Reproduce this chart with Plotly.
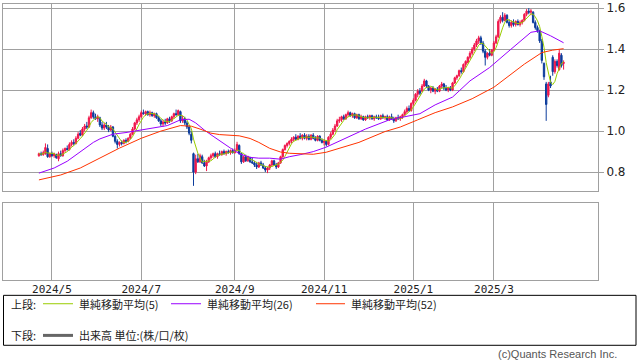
import math
import pandas as pd
import plotly.graph_objects as go

# ---------------- data ----------------
holidays = ["2024-04-29", "2024-05-03", "2024-05-06", "2024-07-15", "2024-08-12",
            "2024-09-16", "2024-09-23", "2024-10-14", "2024-11-04", "2024-12-31",
            "2025-01-01", "2025-01-02", "2025-01-03", "2025-01-13", "2025-02-11",
            "2025-02-24", "2025-03-20"]
dates = [d.strftime("%Y-%m-%d") for d in pd.bdate_range("2024-04-22", "2025-04-17")
         if d.strftime("%Y-%m-%d") not in holidays]

tick_dates = ["2024-05-01", "2024-07-01", "2024-09-02", "2024-11-01", "2025-01-06", "2025-03-03"]
tick_labels = ["2024/5", "2024/7", "2024/9", "2024/11", "2025/1", "2025/3"]

price_ticks = [0.8, 1.0, 1.2, 1.4, 1.6]
price_tick_labels = ["0.8", "1.0", "1.2", "1.4", "1.6"]

opens = [0.880,0.890,0.885,0.890,0.915,0.875,0.890,0.880,0.885,0.865,
         0.890,0.880,0.905,0.915,0.910,0.935,0.945,0.940,0.965,0.990,
         0.980,1.010,1.025,1.020,1.065,1.090,1.070,1.060,1.065,1.030,
         1.015,1.030,1.020,1.005,1.020,0.975,0.950,0.935,0.945,0.940,
         0.955,0.950,0.965,0.985,1.010,1.040,1.055,1.070,1.090,1.085,
         1.095,1.080,1.090,1.075,1.085,1.065,1.050,1.035,1.045,1.040,
         1.060,1.050,1.070,1.085,1.080,1.095,1.050,1.060,1.040,1.020,
         0.985,0.890,0.800,0.865,0.850,0.875,0.845,0.830,0.850,0.870,
         0.880,0.890,0.875,0.890,0.885,0.900,0.890,0.900,0.895,0.905,
         0.895,0.905,0.930,0.890,0.850,0.875,0.855,0.870,0.850,0.845,
         0.835,0.825,0.845,0.835,0.820,0.810,0.820,0.835,0.855,0.835,
         0.825,0.845,0.875,0.910,0.930,0.940,0.950,0.960,0.970,0.960,
         0.975,0.965,0.980,0.965,0.975,0.960,0.980,0.965,0.955,0.975,
         0.955,0.945,0.950,0.935,0.970,0.985,1.005,1.025,1.050,1.055,
         1.070,1.060,1.080,1.090,1.075,1.085,1.065,1.080,1.060,1.070,
         1.055,1.070,1.065,1.075,1.060,1.070,1.065,1.060,1.075,1.065,
         1.070,1.055,1.070,1.060,1.050,1.065,1.060,1.070,1.080,1.095,
         1.110,1.100,1.135,1.150,1.180,1.195,1.195,1.220,1.245,1.220,
         1.200,1.210,1.195,1.205,1.195,1.220,1.230,1.210,1.200,1.210,
         1.200,1.235,1.260,1.270,1.295,1.290,1.325,1.335,1.360,1.380,
         1.400,1.420,1.440,1.455,1.430,1.390,1.360,1.380,1.370,1.395,
         1.430,1.460,1.535,1.555,1.540,1.565,1.530,1.515,1.530,1.520,
         1.535,1.520,1.530,1.540,1.570,1.585,1.580,1.580,1.530,1.505,
         1.490,1.440,1.330,1.230,1.175,1.240,1.360,1.290,1.340,1.300,
         1.370,1.330]
highs = [0.895,0.900,0.905,0.940,0.935,0.895,0.900,0.895,0.890,0.900,
         0.905,0.915,0.920,0.930,0.945,0.955,0.960,0.975,0.995,1.005,
         1.020,1.035,1.045,1.075,1.105,1.100,1.085,1.080,1.070,1.045,
         1.040,1.045,1.030,1.030,1.025,0.980,0.960,0.950,0.955,0.960,
         0.965,0.970,0.990,1.020,1.045,1.065,1.080,1.100,1.105,1.100,
         1.100,1.100,1.095,1.090,1.090,1.075,1.060,1.055,1.060,1.065,
         1.070,1.075,1.090,1.105,1.105,1.100,1.075,1.070,1.050,1.030,
         1.000,0.895,0.885,0.890,0.890,0.885,0.860,0.860,0.875,0.890,
         0.895,0.900,0.895,0.905,0.905,0.910,0.905,0.910,0.910,0.915,
         0.915,0.948,0.935,0.895,0.880,0.885,0.880,0.875,0.870,0.855,
         0.850,0.850,0.855,0.845,0.830,0.825,0.840,0.860,0.860,0.845,
         0.850,0.880,0.915,0.935,0.945,0.955,0.970,0.975,0.985,0.980,
         0.990,0.985,0.990,0.985,0.985,0.985,0.990,0.975,0.980,0.980,
         0.965,0.960,0.955,0.975,0.995,1.015,1.035,1.060,1.070,1.075,
         1.080,1.085,1.100,1.095,1.090,1.090,1.085,1.085,1.080,1.075,
         1.075,1.080,1.080,1.080,1.075,1.080,1.080,1.080,1.085,1.075,
         1.080,1.075,1.085,1.070,1.070,1.080,1.075,1.085,1.105,1.120,
         1.125,1.140,1.160,1.185,1.205,1.210,1.230,1.255,1.250,1.225,
         1.215,1.220,1.210,1.215,1.225,1.240,1.235,1.225,1.215,1.220,
         1.240,1.265,1.275,1.300,1.310,1.330,1.345,1.365,1.390,1.410,
         1.430,1.450,1.465,1.465,1.440,1.400,1.385,1.400,1.400,1.440,
         1.470,1.545,1.565,1.580,1.575,1.570,1.545,1.540,1.545,1.540,
         1.545,1.540,1.545,1.575,1.595,1.600,1.595,1.585,1.540,1.515,
         1.495,1.450,1.335,1.240,1.240,1.270,1.370,1.350,1.350,1.400,
         1.380,1.345]
lows = [0.875,0.880,0.880,0.885,0.870,0.870,0.875,0.870,0.865,0.853,
        0.875,0.875,0.895,0.905,0.905,0.925,0.930,0.935,0.960,0.975,
        0.975,1.000,1.010,1.015,1.060,1.060,1.055,1.045,1.020,1.005,
        1.005,1.010,0.995,1.000,0.970,0.940,0.915,0.925,0.930,0.935,
        0.940,0.945,0.960,0.980,1.005,1.030,1.045,1.065,1.080,1.075,
        1.075,1.070,1.070,1.065,1.060,1.045,1.025,1.022,1.030,1.035,
        1.040,1.045,1.060,1.075,1.075,1.040,1.040,1.030,1.010,0.980,
        0.940,0.733,0.790,0.845,0.845,0.840,0.825,0.805,0.845,0.860,
        0.870,0.870,0.865,0.880,0.880,0.885,0.880,0.890,0.885,0.890,
        0.890,0.900,0.885,0.840,0.845,0.850,0.850,0.845,0.840,0.825,
        0.815,0.820,0.830,0.815,0.800,0.795,0.810,0.825,0.830,0.815,
        0.820,0.840,0.870,0.905,0.920,0.930,0.940,0.950,0.955,0.955,
        0.960,0.955,0.960,0.955,0.955,0.955,0.960,0.950,0.950,0.950,
        0.940,0.930,0.925,0.930,0.960,0.980,0.995,1.020,1.040,1.045,
        1.055,1.055,1.070,1.070,1.065,1.060,1.060,1.055,1.055,1.050,
        1.050,1.060,1.055,1.055,1.050,1.060,1.055,1.055,1.060,1.055,
        1.050,1.050,1.055,1.040,1.045,1.055,1.050,1.060,1.075,1.085,
        1.095,1.095,1.125,1.145,1.165,1.175,1.190,1.215,1.210,1.195,
        1.185,1.190,1.180,1.190,1.190,1.210,1.200,1.195,1.190,1.195,
        1.195,1.230,1.250,1.265,1.280,1.285,1.310,1.330,1.350,1.370,
        1.390,1.410,1.425,1.420,1.380,1.320,1.350,1.365,1.365,1.390,
        1.425,1.455,1.525,1.530,1.535,1.525,1.505,1.505,1.510,1.510,
        1.515,1.510,1.520,1.535,1.560,1.570,1.565,1.525,1.495,1.480,
        1.430,1.330,1.250,1.050,1.165,1.210,1.270,1.280,1.310,1.295,
        1.310,1.300]
closes = [0.890,0.885,0.895,0.920,0.875,0.890,0.880,0.890,0.870,0.890,
          0.880,0.905,0.915,0.910,0.935,0.945,0.940,0.965,0.985,0.980,
          1.010,1.025,1.020,1.065,1.090,1.070,1.060,1.070,1.030,1.015,
          1.030,1.020,1.005,1.020,0.975,0.950,0.935,0.945,0.940,0.955,
          0.950,0.965,0.985,1.010,1.040,1.055,1.070,1.090,1.085,1.095,
          1.080,1.090,1.075,1.085,1.065,1.050,1.035,1.045,1.040,1.060,
          1.050,1.070,1.085,1.080,1.100,1.050,1.060,1.040,1.020,0.990,
          0.955,0.800,0.865,0.850,0.880,0.845,0.830,0.850,0.870,0.880,
          0.890,0.875,0.890,0.885,0.900,0.890,0.900,0.895,0.905,0.895,
          0.905,0.935,0.890,0.850,0.875,0.855,0.875,0.850,0.845,0.835,
          0.825,0.845,0.835,0.820,0.810,0.820,0.835,0.855,0.835,0.825,
          0.845,0.875,0.910,0.930,0.940,0.950,0.960,0.970,0.960,0.975,
          0.965,0.980,0.965,0.975,0.960,0.980,0.965,0.955,0.975,0.955,
          0.945,0.950,0.935,0.970,0.985,1.005,1.025,1.050,1.055,1.070,
          1.060,1.080,1.090,1.075,1.085,1.065,1.080,1.060,1.070,1.055,
          1.070,1.065,1.075,1.060,1.070,1.065,1.060,1.075,1.065,1.070,
          1.055,1.070,1.060,1.050,1.065,1.060,1.070,1.080,1.095,1.110,
          1.100,1.135,1.150,1.180,1.195,1.185,1.220,1.245,1.220,1.200,
          1.210,1.195,1.205,1.195,1.220,1.230,1.210,1.200,1.210,1.200,
          1.235,1.260,1.270,1.295,1.290,1.325,1.340,1.360,1.380,1.400,
          1.420,1.440,1.455,1.430,1.390,1.360,1.380,1.370,1.395,1.430,
          1.460,1.535,1.555,1.540,1.565,1.530,1.515,1.530,1.520,1.535,
          1.520,1.530,1.540,1.570,1.585,1.580,1.585,1.530,1.505,1.490,
          1.440,1.345,1.265,1.130,1.230,1.220,1.290,1.340,1.320,1.380,
          1.320,1.335]

ma26_idx = [0, 7, 13, 19, 25, 28, 34, 40, 47, 53, 59, 65, 69, 72, 76, 80, 84, 88, 92,
            97, 101, 106, 111, 115, 120, 126, 132, 138, 142, 150, 161, 168, 175, 182,
            190, 198, 207, 215, 223, 226, 230, 235, 241]
ma26_val = [0.795, 0.820, 0.853, 0.901, 0.945, 0.962, 0.985, 0.993, 1.005, 1.014, 1.027,
            1.055, 1.058, 1.040, 1.005, 0.975, 0.945, 0.917, 0.890, 0.872, 0.868, 0.868,
            0.863, 0.875, 0.885, 0.900, 0.922, 0.950, 0.972, 1.010, 1.055, 1.070, 1.085,
            1.128, 1.166, 1.245, 1.310, 1.383, 1.455, 1.482, 1.489, 1.465, 1.431]

ma52_idx = [0, 10, 19, 28, 37, 47, 56, 65, 70, 74, 79, 83, 88, 92, 97, 101, 106, 111,
            115, 120, 126, 132, 138, 147, 159, 166, 174, 182, 190, 199, 209, 215, 223,
            231, 236, 241]
ma52_val = [0.762, 0.786, 0.820, 0.869, 0.917, 0.965, 1.000, 1.027, 1.024, 1.010, 0.990,
            0.983, 0.978, 0.977, 0.964, 0.945, 0.916, 0.898, 0.892, 0.890, 0.887, 0.897,
            0.916, 0.945, 0.998, 1.020, 1.055, 1.090, 1.118, 1.158, 1.214, 1.263, 1.327,
            1.383, 1.395, 1.402]

legend_top = ["単純移動平均(5)", "単純移動平均(26)", "単純移動平均(52)"]
legend_bottom = "出来高 単位:(株/口/枚)"

# ---------------- styling ----------------
RED = "#f0174b"
BLUE = "#0c3c9c"
C5 = "#99cc00"
C26 = "#9900ff"
C52 = "#ff3300"
GRID = "#a0a0a0"
FONT = "Noto Sans CJK JP"

W, H = 638, 362
L, R, T, B = 3, 40, 1, 82
PW = W - L - R
PH = H - T - B


def px(x):
    return (x - L) / PW


def py(y):
    return (H - B - y) / PH


ma5 = pd.Series(closes).rolling(5, min_periods=1).mean().tolist()

fig = go.Figure()
fig.add_trace(go.Candlestick(
    x=dates, open=opens, high=highs, low=lows, close=closes,
    increasing=dict(line=dict(color=RED, width=1), fillcolor=RED),
    decreasing=dict(line=dict(color=BLUE, width=1), fillcolor=BLUE),
    whiskerwidth=0, showlegend=False, hoverinfo="skip"))
fig.add_trace(go.Scatter(x=dates, y=ma5, mode="lines", line=dict(color=C5, width=1),
                         showlegend=False, hoverinfo="skip"))
fig.add_trace(go.Scatter(x=[dates[i] for i in ma26_idx], y=ma26_val, mode="lines",
                         line=dict(color=C26, width=1), showlegend=False, hoverinfo="skip"))
fig.add_trace(go.Scatter(x=[dates[i] for i in ma52_idx], y=ma52_val, mode="lines",
                         line=dict(color=C52, width=1), showlegend=False, hoverinfo="skip"))
fig.add_trace(go.Scatter(x=dates, y=[None] * len(dates), xaxis="x2", yaxis="y2",
                         mode="lines", showlegend=False, hoverinfo="skip"))

xr = [-16.5, 256.8]
common_x = dict(type="category", categoryorder="array", categoryarray=dates, range=xr,
                showgrid=True, gridcolor=GRID, gridwidth=1, tickvals=tick_dates,
                showline=True, mirror=True, linecolor=GRID, linewidth=1, zeroline=False,
                fixedrange=True)

top_dom = [py(190), 1.0]
bot_dom = [0.0, py(202)]

fig.update_layout(
    width=W, height=H, margin=dict(l=L, r=R, t=T, b=B),
    paper_bgcolor="white", plot_bgcolor="white",
    font=dict(family=FONT, size=11, color="#222"),
    showlegend=False, boxgap=0.12,
    xaxis=dict(**common_x, anchor="y", domain=[0, 1], showticklabels=False,
               rangeslider=dict(visible=False)),
    yaxis=dict(domain=top_dom, side="right", range=[0.708, 1.62], tickvals=price_ticks,
               ticktext=price_tick_labels, showgrid=True, gridcolor=GRID, ticks="outside",
               ticklen=5, tickcolor=GRID, showline=True, mirror=True, linecolor=GRID,
               zeroline=False, ticklabeloverflow="allow", fixedrange=True,
               tickfont=dict(family="DejaVu Sans", size=12, color="#222")),
    xaxis2=dict(**common_x, anchor="y2", domain=[0, 1], matches="x", showticklabels=True,
                ticktext=tick_labels, ticks="", ticklabeloverflow="allow",
                ticklabelstandoff=-1,
                tickfont=dict(family="DejaVu Sans Mono", size=11, color="#222")),
    yaxis2=dict(domain=bot_dom, range=[0, 1], showgrid=False, showticklabels=False,
                showline=True, mirror=True, linecolor=GRID, zeroline=False, ticks="",
                fixedrange=True),
)

shapes = []
annotations = []
# legend frame
shapes.append(dict(type="rect", xref="paper", yref="paper", x0=px(3.5), x1=px(636),
                   y0=py(295.5), y1=py(346), line=dict(color="black", width=1)))
row1, row2 = 304, 336
annotations.append(dict(xref="paper", yref="paper", x=px(10), y=py(row1), text="上段:",
                        showarrow=False, xanchor="left", yanchor="middle", borderpad=0))
annotations.append(dict(xref="paper", yref="paper", x=px(10), y=py(row2), text="下段:",
                        showarrow=False, xanchor="left", yanchor="middle", borderpad=0))
for (x0, x1, tx), col, label in zip([(43, 73, 78), (171, 201, 206), (316, 345, 350)],
                                    [C5, C26, C52], legend_top):
    shapes.append(dict(type="line", xref="paper", yref="paper", x0=px(x0), x1=px(x1),
                       y0=py(row1), y1=py(row1), line=dict(color=col, width=1)))
    annotations.append(dict(xref="paper", yref="paper", x=px(tx), y=py(row1), text=label,
                            showarrow=False, xanchor="left", yanchor="middle", borderpad=0))
shapes.append(dict(type="line", xref="paper", yref="paper", x0=px(43), x1=px(73),
                   y0=py(row2), y1=py(row2), line=dict(color="#666666", width=3)))
annotations.append(dict(xref="paper", yref="paper", x=px(78), y=py(row2), text=legend_bottom,
                        showarrow=False, xanchor="left", yanchor="middle", borderpad=0))
annotations.append(dict(xref="paper", yref="paper", x=px(618), y=py(355), text="(c)Quants Research Inc.",
                        showarrow=False, xanchor="right", yanchor="middle", borderpad=0,
                        font=dict(family="Liberation Sans", size=11, color="#555")))
fig.update_layout(shapes=shapes, annotations=annotations)

fig.write_html("out.html", config={"displayModeBar": False, "staticPlot": True},
               post_script="document.body.style.margin='0';document.body.style.padding='0';")
